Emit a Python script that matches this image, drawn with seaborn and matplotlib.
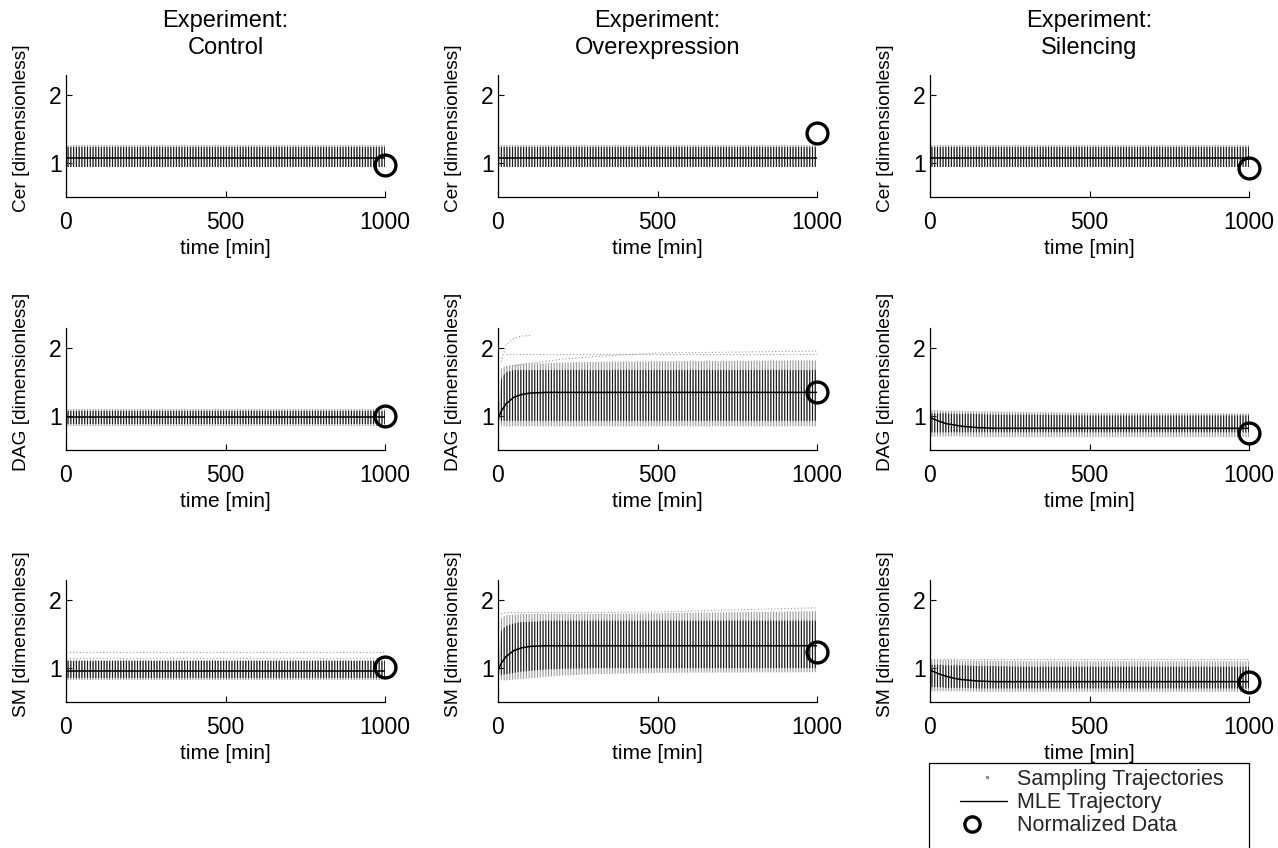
import numpy as np
import matplotlib
matplotlib.use("Agg")
import matplotlib.pyplot as plt
from matplotlib.lines import Line2D
from matplotlib.patches import Rectangle
from matplotlib.legend_handler import HandlerLine2D
import seaborn as sns

nan = float("nan")

# ---------------- data ----------------
experiments = ["Control", "Overexpression", "Silencing"]
species = ["Cer", "DAG", "SM"]
time_min = [0, 10, 25, 50, 75, 100, 150, 200, 300, 500, 1000]

# normalized data points at t = 1000 min (one per experiment)
data_time = 1000
data_Cer = [0.97, 1.45, 0.93]
data_DAG = [1.00, 1.35, 0.75]
data_SM = [1.01, 1.24, 0.80]

# MLE trajectories
mle_Cer_Control = [1.08, 1.08, 1.08, 1.08, 1.08, 1.08, 1.08, 1.08, 1.08, 1.08, 1.08]
mle_Cer_Overexpression = [1.08, 1.08, 1.08, 1.08, 1.08, 1.08, 1.08, 1.08, 1.08, 1.08, 1.08]
mle_Cer_Silencing = [1.08, 1.08, 1.08, 1.08, 1.08, 1.08, 1.08, 1.08, 1.08, 1.08, 1.08]
mle_DAG_Control = [0.98, 0.98, 0.98, 0.98, 0.98, 0.98, 0.98, 0.98, 0.98, 0.98, 0.98]
mle_DAG_Overexpression = [0.96, 1.07, 1.18, 1.28, 1.32, 1.34, 1.35, 1.35, 1.35, 1.35, 1.35]
mle_DAG_Silencing = [0.98, 0.96, 0.93, 0.89, 0.87, 0.85, 0.83, 0.82, 0.82, 0.82, 0.82]
mle_SM_Control = [0.96, 0.96, 0.96, 0.96, 0.96, 0.96, 0.96, 0.96, 0.96, 0.96, 0.96]
mle_SM_Overexpression = [0.97, 1.07, 1.17, 1.26, 1.30, 1.32, 1.33, 1.33, 1.33, 1.33, 1.33]
mle_SM_Silencing = [0.97, 0.95, 0.92, 0.88, 0.85, 0.83, 0.81, 0.80, 0.80, 0.80, 0.80]

# sampling trajectories: dense core envelope (low / high)
core_lo_Cer = [0.95, 0.95, 0.95, 0.95, 0.95, 0.95, 0.95, 0.95, 0.95, 0.95, 0.95]
core_hi_Cer = [1.24, 1.24, 1.24, 1.24, 1.24, 1.24, 1.24, 1.24, 1.24, 1.24, 1.24]
core_lo_DAG_Control = [0.88, 0.88, 0.88, 0.88, 0.88, 0.88, 0.88, 0.88, 0.88, 0.88, 0.88]
core_hi_DAG_Control = [1.08, 1.08, 1.08, 1.08, 1.08, 1.08, 1.08, 1.08, 1.08, 1.08, 1.08]
core_lo_DAG_Overexpression = [0.96, 0.93, 0.93, 0.93, 0.93, 0.93, 0.93, 0.93, 0.93, 0.93, 0.93]
core_hi_DAG_Overexpression = [0.96, 1.55, 1.65, 1.68, 1.68, 1.68, 1.68, 1.68, 1.68, 1.68, 1.68]
core_lo_DAG_Silencing = [0.76, 0.76, 0.76, 0.76, 0.76, 0.76, 0.76, 0.76, 0.76, 0.76, 0.76]
core_hi_DAG_Silencing = [1.04, 1.04, 1.04, 1.04, 1.03, 1.03, 1.03, 1.02, 1.02, 1.01, 1.01]
core_lo_SM_Control = [0.85, 0.85, 0.85, 0.85, 0.85, 0.85, 0.85, 0.85, 0.85, 0.85, 0.85]
core_hi_SM_Control = [1.10, 1.10, 1.10, 1.10, 1.10, 1.10, 1.10, 1.10, 1.10, 1.10, 1.10]
core_lo_SM_Overexpression = [0.96, 0.90, 0.91, 0.93, 0.95, 0.96, 0.98, 0.99, 1.00, 1.00, 1.00]
core_hi_SM_Overexpression = [0.96, 1.55, 1.62, 1.66, 1.68, 1.68, 1.70, 1.70, 1.70, 1.70, 1.70]
core_lo_SM_Silencing = [0.72, 0.72, 0.72, 0.71, 0.71, 0.71, 0.70, 0.70, 0.70, 0.70, 0.70]
core_hi_SM_Silencing = [1.05, 1.05, 1.05, 1.04, 1.04, 1.04, 1.03, 1.03, 1.02, 1.02, 1.02]

# sampling trajectories: full spread envelope (low / high)
spread_lo_Cer = [0.94, 0.94, 0.94, 0.94, 0.94, 0.94, 0.94, 0.94, 0.94, 0.94, 0.94]
spread_hi_Cer = [1.26, 1.26, 1.26, 1.26, 1.26, 1.26, 1.26, 1.26, 1.26, 1.26, 1.26]
spread_lo_DAG_Control = [0.86, 0.86, 0.86, 0.86, 0.86, 0.86, 0.86, 0.86, 0.86, 0.86, 0.86]
spread_hi_DAG_Control = [1.10, 1.10, 1.10, 1.10, 1.10, 1.10, 1.10, 1.10, 1.10, 1.10, 1.10]
spread_lo_DAG_Overexpression = [0.96, 0.86, 0.85, 0.85, 0.85, 0.85, 0.85, 0.85, 0.85, 0.85, 0.85]
spread_hi_DAG_Overexpression = [0.96, 1.70, 1.74, 1.76, 1.77, 1.78, 1.78, 1.79, 1.80, 1.81, 1.82]
spread_lo_DAG_Silencing = [0.70, 0.70, 0.70, 0.70, 0.70, 0.70, 0.69, 0.69, 0.69, 0.69, 0.69]
spread_hi_DAG_Silencing = [1.09, 1.09, 1.09, 1.08, 1.08, 1.08, 1.07, 1.07, 1.06, 1.05, 1.04]
spread_lo_SM_Control = [0.83, 0.83, 0.83, 0.83, 0.83, 0.83, 0.83, 0.83, 0.83, 0.83, 0.83]
spread_hi_SM_Control = [1.12, 1.12, 1.12, 1.12, 1.12, 1.12, 1.12, 1.12, 1.12, 1.12, 1.12]
spread_lo_SM_Overexpression = [0.96, 0.82, 0.82, 0.83, 0.84, 0.85, 0.87, 0.89, 0.91, 0.93, 0.94]
spread_hi_SM_Overexpression = [0.96, 1.74, 1.78, 1.79, 1.80, 1.80, 1.80, 1.80, 1.80, 1.81, 1.84]
spread_lo_SM_Silencing = [0.66, 0.66, 0.66, 0.66, 0.66, 0.66, 0.65, 0.65, 0.65, 0.65, 0.65]
spread_hi_SM_Silencing = [1.12, 1.12, 1.12, 1.12, 1.12, 1.11, 1.11, 1.11, 1.10, 1.10, 1.10]

# individual outlying sampling trajectories
out_DAG_Over_1 = [nan, 1.80, 2.05, 2.15, 2.18, 2.19, nan, nan, nan, nan, nan]
out_DAG_Over_2 = [nan, nan, 1.92, 1.92, 1.92, 1.92, 1.92, 1.92, 1.92, 1.92, 1.92]
out_DAG_Over_3 = [nan, nan, 1.72, 1.74, 1.76, 1.78, 1.81, 1.84, 1.88, 1.93, 1.96]
out_SM_Over_1 = [nan, 1.80, 1.82, 1.82, 1.82, 1.82, 1.82, 1.82, 1.82, 1.83, 1.89]
out_SM_Control_1 = [1.15, 1.15, 1.15, 1.15, 1.15, 1.15, 1.15, 1.15, 1.15, 1.15, 1.15]
out_SM_Control_2 = [1.24, 1.24, 1.24, 1.24, 1.24, 1.24, 1.24, 1.24, 1.24, 1.24, 1.24]
out_SM_Sil_1 = [1.14, 1.14, 1.14, 1.14, 1.14, 1.14, 1.14, 1.14, 1.14, 1.14, 1.14]

# --------------- assemble ---------------
data_points = {"Cer": data_Cer, "DAG": data_DAG, "SM": data_SM}
mle = {
    ("Cer", "Control"): mle_Cer_Control, ("Cer", "Overexpression"): mle_Cer_Overexpression,
    ("Cer", "Silencing"): mle_Cer_Silencing, ("DAG", "Control"): mle_DAG_Control,
    ("DAG", "Overexpression"): mle_DAG_Overexpression, ("DAG", "Silencing"): mle_DAG_Silencing,
    ("SM", "Control"): mle_SM_Control, ("SM", "Overexpression"): mle_SM_Overexpression,
    ("SM", "Silencing"): mle_SM_Silencing,
}
core = {
    ("Cer", "Control"): (core_lo_Cer, core_hi_Cer), ("Cer", "Overexpression"): (core_lo_Cer, core_hi_Cer),
    ("Cer", "Silencing"): (core_lo_Cer, core_hi_Cer),
    ("DAG", "Control"): (core_lo_DAG_Control, core_hi_DAG_Control),
    ("DAG", "Overexpression"): (core_lo_DAG_Overexpression, core_hi_DAG_Overexpression),
    ("DAG", "Silencing"): (core_lo_DAG_Silencing, core_hi_DAG_Silencing),
    ("SM", "Control"): (core_lo_SM_Control, core_hi_SM_Control),
    ("SM", "Overexpression"): (core_lo_SM_Overexpression, core_hi_SM_Overexpression),
    ("SM", "Silencing"): (core_lo_SM_Silencing, core_hi_SM_Silencing),
}
spread = {
    ("Cer", "Control"): (spread_lo_Cer, spread_hi_Cer), ("Cer", "Overexpression"): (spread_lo_Cer, spread_hi_Cer),
    ("Cer", "Silencing"): (spread_lo_Cer, spread_hi_Cer),
    ("DAG", "Control"): (spread_lo_DAG_Control, spread_hi_DAG_Control),
    ("DAG", "Overexpression"): (spread_lo_DAG_Overexpression, spread_hi_DAG_Overexpression),
    ("DAG", "Silencing"): (spread_lo_DAG_Silencing, spread_hi_DAG_Silencing),
    ("SM", "Control"): (spread_lo_SM_Control, spread_hi_SM_Control),
    ("SM", "Overexpression"): (spread_lo_SM_Overexpression, spread_hi_SM_Overexpression),
    ("SM", "Silencing"): (spread_lo_SM_Silencing, spread_hi_SM_Silencing),
}
outliers = {
    ("DAG", "Overexpression"): [out_DAG_Over_1, out_DAG_Over_2, out_DAG_Over_3],
    ("SM", "Overexpression"): [out_SM_Over_1],
    ("SM", "Control"): [out_SM_Control_1, out_SM_Control_2],
    ("SM", "Silencing"): [out_SM_Sil_1],
}

# --------------- style ---------------
sns.set_theme(style="white")
plt.rcParams["font.family"] = ["Liberation Sans", "DejaVu Sans"]
plt.rcParams["hatch.linewidth"] = 0.8
FS = 15
FS_TICK = 16.5
FS_YLAB = 13.8

W, H = 1278, 848
fig = plt.figure(figsize=(W / 100, H / 100), dpi=100)
fig.patch.set_facecolor("white")

col_left = [66, 498, 930]
row_top = [75, 328, 580]
ax_w, ax_h = 319, 122

t = np.array(time_min, dtype=float)
for i, sp in enumerate(species):
    for j, ex in enumerate(experiments):
        ax = fig.add_axes([col_left[j] / W, 1 - (row_top[i] + ax_h) / H, ax_w / W, ax_h / H])
        ax.set_facecolor("white")
        key = (sp, ex)
        slo, shi = spread[key]
        clo, chi = core[key]
        ax.fill_between(t, slo, shi, facecolor="none", edgecolor="0.6", linewidth=0,
                        hatch="||||||", zorder=1)
        ax.fill_between(t, clo, chi, facecolor="none", edgecolor="0.1", linewidth=0,
                        hatch="||||||", zorder=2)
        for tr in outliers.get(key, []):
            ax.plot(t, tr, color="0.6", lw=0.8, ls=(0, (1, 2)), zorder=2)
        sns.lineplot(x=time_min, y=mle[key], ax=ax, color="black", lw=1.1,
                     estimator=None, zorder=3)
        ax.plot([data_time], [data_points[sp][j]], marker="o", ms=15, mfc="none",
                mec="black", mew=2.4, ls="none", zorder=4, clip_on=False)

        ax.set_xlim(0, 1000)
        ax.set_ylim(0.5, 2.3)
        ax.set_xticks([0, 500, 1000])
        ax.set_yticks([1, 2])
        ax.set_xticklabels(["0", "500", "1000"])
        ax.set_yticklabels(["1", "2"])
        for s in ["top", "right"]:
            ax.spines[s].set_visible(False)
        for s in ["left", "bottom"]:
            ax.spines[s].set_color("black")
            ax.spines[s].set_linewidth(0.9)
        ax.tick_params(axis="both", direction="in", length=4, width=0.8, colors="black",
                       labelsize=FS_TICK, bottom=True, left=True)
        ax.tick_params(axis="x", pad=10)
        ax.tick_params(axis="y", pad=3)
        ax.set_xlabel("time [min]", fontsize=FS, labelpad=4, color="black")
        ax.set_ylabel(f"{sp} [dimensionless]", fontsize=FS_YLAB, color="black")
        ax.yaxis.set_label_coords(-0.113, 0.56)
        if i == 0:
            ax.set_title(f"Experiment:\n{ex}", fontsize=17, pad=15, color="black",
                         linespacing=1.28)


class ShortHandler(HandlerLine2D):
    def __init__(self, f0, f1, **kw):
        super().__init__(**kw)
        self.f0, self.f1 = f0, f1

    def get_xdata(self, legend, xdescent, ydescent, width, height, fontsize):
        xd = np.array([-xdescent + width * self.f0, -xdescent + width * self.f1])
        return xd, np.array([0.5 * (xd[0] + xd[1])])


# legend frame (box runs past the bottom edge as in the reference)
fig.add_artist(Rectangle((929 / W, -0.01), (1249 - 929) / W, 0.01 + (848 - 763) / H,
                         transform=fig.transFigure, facecolor="white", edgecolor="black",
                         linewidth=0.9, zorder=5))

h_samp = Line2D([], [], color="0.55", marker="s", ms=1.3, ls="none")
h_mle = Line2D([], [], color="black", lw=1.0)
h_data = Line2D([], [], color="black", marker="o", ms=11, mfc="none", mew=2.4, ls="none")
leg = fig.legend(
    [h_samp, h_mle, h_data],
    ["Sampling Trajectories", "MLE Trajectory", "Normalized Data"],
    loc="upper left", bbox_to_anchor=(936 / W, 1 - 769 / H), fontsize=15.5,
    frameon=False, borderpad=0, handlelength=3.35, handletextpad=0.43,
    labelspacing=0.1, borderaxespad=0,
    handler_map={h_samp: ShortHandler(0.70, 0.72), h_mle: ShortHandler(0.33, 0.99),
                 h_data: ShortHandler(0.49, 0.51)},
)
leg.set_zorder(6)

fig.savefig("out.png", dpi=100, facecolor="white")
